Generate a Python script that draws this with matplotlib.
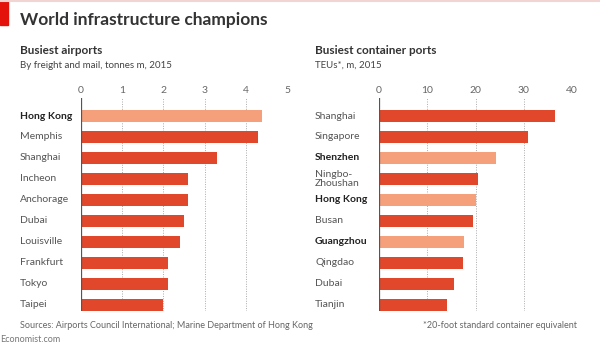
import matplotlib.pyplot as plt
import matplotlib.transforms as mtransforms
from matplotlib.patches import Rectangle

# Busiest airports, freight and mail, tonnes m, 2015
airports = ['Hong Kong', 'Memphis', 'Shanghai', 'Incheon', 'Anchorage',
            'Dubai', 'Louisville', 'Frankfurt', 'Tokyo', 'Taipei']
freight = [4.4, 4.3, 3.3, 2.6, 2.6, 2.5, 2.4, 2.1, 2.1, 2.0]
airport_hl = ['Hong Kong']

# Busiest container ports, TEUs m, 2015
ports = ['Shanghai', 'Singapore', 'Shenzhen', 'Ningbo-\nZhoushan', 'Hong Kong',
         'Busan', 'Guangzhou', 'Qingdao', 'Dubai', 'Tianjin']
teus = [36.5, 30.9, 24.2, 20.6, 20.1, 19.5, 17.6, 17.4, 15.6, 14.1]
port_hl = ['Shenzhen', 'Hong Kong', 'Guangzhou']

dark = '#e0472b'
light = '#f5a07b'
plt.rcParams['font.family'] = ['Lato', 'DejaVu Sans']

fig = plt.figure(figsize=(6, 3.52), dpi=100)
fig.patch.set_facecolor('white')

def panel(rect, names, vals, hl, xmax, step, label_x):
    ax = fig.add_axes(rect)
    ypos = list(range(len(names)))
    cols = [light if n in hl else dark for n in names]
    ax.barh(ypos, vals, height=0.58, color=cols, zorder=3)
    ax.set_xlim(0, xmax)
    ax.set_ylim(9.3, -0.86)
    ticks = list(range(0, xmax + 1, step))
    ax.set_xticks(ticks)
    ax.xaxis.tick_top()
    ax.tick_params(axis='x', length=0, pad=2, labelsize=7.5, labelcolor='#666666')
    ax.set_yticks([])
    for s in ax.spines.values():
        s.set_visible(False)
    for t in ticks[1:]:
        ax.axvline(t, color='#aaaaaa', lw=0.7, ls=(0, (1, 1.5)), zorder=1)
    ax.axvline(0, color='#555555', lw=0.9, zorder=4)
    trans = mtransforms.blended_transform_factory(fig.transFigure, ax.transData)
    for y, n in zip(ypos, names):
        bold = n in hl
        ax.text(label_x, y, n, transform=trans, ha='left', va='center',
                fontsize=7.5, fontweight='bold' if bold else 'normal',
                color='#222222' if bold else '#555555', linespacing=0.95)
    return ax

panel([81 / 600, 1 - 311 / 352, 206 / 600, 213 / 352], airports, freight,
      airport_hl, 5, 1, 20 / 600)
panel([379 / 600, 1 - 311 / 352, 193 / 600, 213 / 352], ports, teus,
      port_hl, 40, 10, 315 / 600)

# header decorations
fig.add_artist(Rectangle((0, 1 - 25 / 352), 8 / 600, 25 / 352,
                         transform=fig.transFigure, color='#e3120b'))
fig.add_artist(plt.Line2D([0, 1], [1 - 1 / 352, 1 - 1 / 352],
                          transform=fig.transFigure, color='#f2d5d2', lw=1.5))

fig.text(20 / 600, 1 - 20 / 352, 'World infrastructure champions', fontsize=12.5,
         fontweight='bold', color='#333333', va='center')
fig.text(20 / 600, 1 - 50 / 352, 'Busiest airports', fontsize=8.5,
         fontweight='bold', color='#333333', va='center')
fig.text(20 / 600, 1 - 65 / 352, 'By freight and mail, tonnes m, 2015',
         fontsize=7, color='#444444', va='center')
fig.text(315 / 600, 1 - 50 / 352, 'Busiest container ports', fontsize=8.5,
         fontweight='bold', color='#333333', va='center')
fig.text(315 / 600, 1 - 65 / 352, 'TEUs*, m, 2015',
         fontsize=7, color='#444444', va='center')

fig.text(20 / 600, 1 - 325 / 352,
         'Sources: Airports Council International; Marine Department of Hong Kong',
         fontsize=6.5, color='#666666', va='center')
fig.text(577 / 600, 1 - 325 / 352, '*20-foot standard container equivalent',
         fontsize=6.5, color='#666666', va='center', ha='right')
fig.text(0, 1 - 340 / 352, 'Economist.com', fontsize=6.5, color='#777777',
         va='center')

fig.savefig('out.png', dpi=100)
